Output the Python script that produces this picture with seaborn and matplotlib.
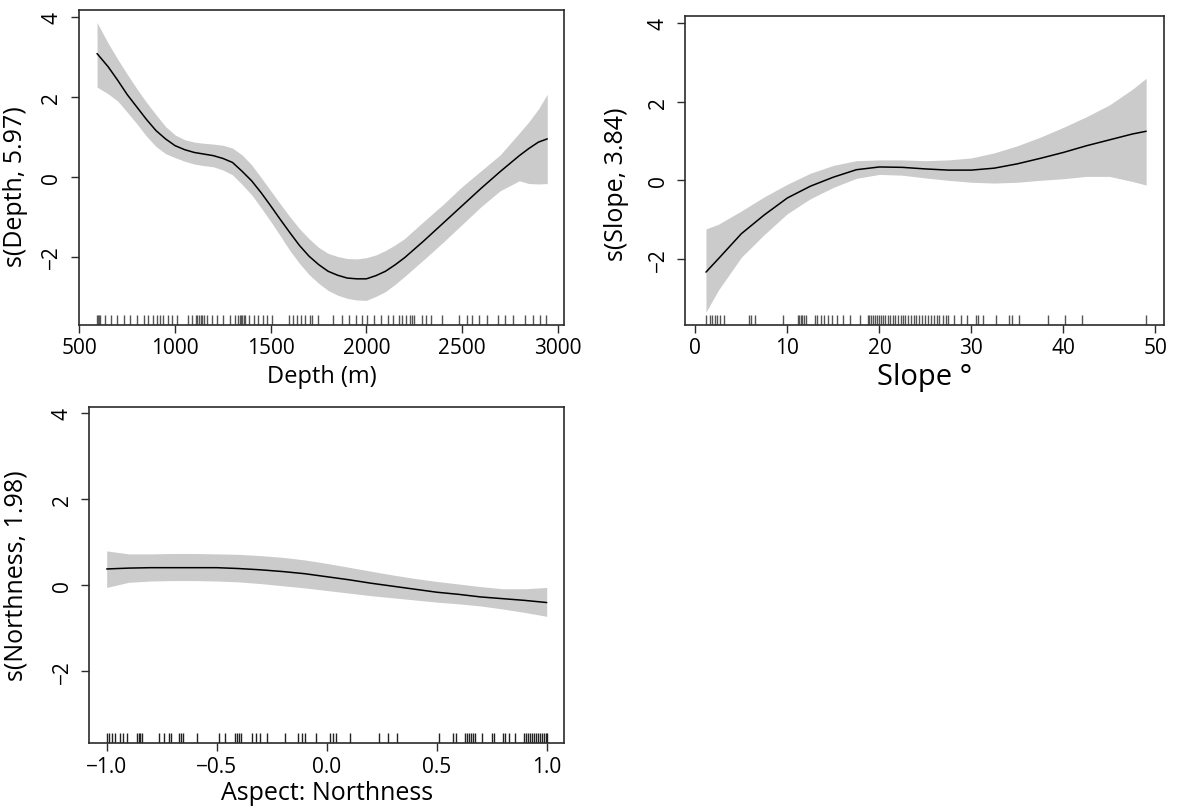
import matplotlib
matplotlib.use("Agg")
import matplotlib.pyplot as plt
import seaborn as sns

# --- Depth smooth ---
depth_x = [592, 650, 700, 750, 800, 850, 900, 950, 1000, 1050, 1100, 1150, 1200, 1250, 1300,
           1350, 1400, 1450, 1500, 1550, 1600, 1650, 1700, 1750, 1800, 1850, 1900, 1950, 2000,
           2050, 2100, 2150, 2200, 2300, 2400, 2500, 2600, 2700, 2800, 2850, 2900, 2946]
depth_fit = [3.09, 2.76, 2.42, 2.06, 1.75, 1.44, 1.16, 0.95, 0.78, 0.68, 0.61, 0.57, 0.53,
             0.46, 0.36, 0.14, -0.10, -0.40, -0.73, -1.07, -1.40, -1.72, -1.99, -2.20, -2.37,
             -2.47, -2.54, -2.56, -2.56, -2.48, -2.37, -2.21, -2.03, -1.61, -1.17, -0.73,
             -0.29, 0.13, 0.53, 0.71, 0.87, 0.95]
depth_hi = [3.87, 3.35, 2.95, 2.57, 2.21, 1.87, 1.56, 1.26, 1.05, 0.93, 0.87, 0.84, 0.82,
            0.79, 0.72, 0.55, 0.30, -0.02, -0.35, -0.68, -1.00, -1.30, -1.55, -1.77, -1.92,
            -2.00, -2.05, -2.06, -2.03, -1.96, -1.85, -1.71, -1.55, -1.12, -0.70, -0.25, 0.15,
            0.55, 1.10, 1.38, 1.70, 2.07]
depth_lo = [2.25, 2.08, 1.90, 1.62, 1.33, 1.02, 0.76, 0.58, 0.48, 0.39, 0.32, 0.28, 0.25,
            0.17, 0.05, -0.19, -0.45, -0.78, -1.12, -1.48, -1.85, -2.17, -2.45, -2.67, -2.85,
            -2.97, -3.05, -3.09, -3.10, -3.00, -2.88, -2.70, -2.50, -2.08, -1.65, -1.20, -0.75,
            -0.35, -0.10, -0.17, -0.18, -0.17]
depth_rug = [592, 598, 604, 610, 636, 666, 696, 732, 766, 802, 837, 861, 887, 907, 921, 937,
             961, 983, 1011, 1067, 1087, 1107, 1117, 1127, 1135, 1143, 1151, 1167, 1193, 1217,
             1253, 1287, 1313, 1327, 1337, 1343, 1351, 1359, 1367, 1387, 1411, 1431, 1458, 1482,
             1508, 1598, 1618, 1638, 1658, 1678, 1704, 1718, 1748, 1824, 1874, 1908, 1948, 1978,
             2004, 2038, 2078, 2115, 2139, 2169, 2189, 2209, 2229, 2239, 2249, 2289, 2313, 2339,
             2395, 2483, 2525, 2555, 2589, 2629, 2690, 2726, 2766, 2830, 2870, 2910, 2940]
depth_ticks = [500, 1000, 1500, 2000, 2500, 3000]
depth_ticklabels = ["500", "1000", "1500", "2000", "2500", "3000"]

# --- Slope smooth ---
slope_x = [1.15, 2.5, 5, 7.5, 10, 12.5, 15, 17.5, 20, 22.5, 25, 27.5, 30, 32.5, 35, 37.5,
           40, 42.5, 45, 47.5, 49.0]
slope_fit = [-2.34, -2.00, -1.36, -0.88, -0.45, -0.15, 0.08, 0.27, 0.34, 0.33, 0.29, 0.26,
             0.26, 0.31, 0.42, 0.56, 0.71, 0.88, 1.03, 1.18, 1.25]
slope_hi = [-1.24, -1.12, -0.78, -0.42, -0.10, 0.18, 0.38, 0.50, 0.52, 0.52, 0.50, 0.52,
            0.57, 0.70, 0.88, 1.10, 1.35, 1.62, 1.92, 2.32, 2.60]
slope_lo = [-3.36, -2.80, -1.96, -1.38, -0.85, -0.47, -0.18, 0.05, 0.15, 0.13, 0.06, 0.00,
            -0.05, -0.07, -0.05, 0.00, 0.04, 0.10, 0.10, -0.03, -0.12]
slope_rug = [1.15, 1.64, 1.84, 2.13, 2.37, 2.66, 3.15, 5.85, 6.06, 6.46, 9.53, 11.13, 11.29,
             11.46, 11.62, 11.78, 11.99, 13.01, 13.22, 13.63, 14.03, 14.40, 14.85, 15.34, 16.0,
             16.78, 17.88, 18.74, 18.9, 19.11, 19.31, 19.52, 19.72, 19.97, 20.17, 20.38, 20.66,
             20.95, 21.15, 21.44, 21.69, 21.97, 22.3, 22.59, 22.83, 23.12, 23.45, 23.73, 24.02,
             24.35, 24.67, 24.96, 25.25, 25.57, 25.98, 26.31, 26.51, 26.88, 27.21, 27.5, 28.15,
             28.85, 29.54, 30.48, 30.77, 31.22, 32.73, 34.08, 34.37, 35.19, 38.38, 40.22, 42.02,
             49.02]
slope_ticks = [0, 10, 20, 30, 40, 50]
slope_ticklabels = ["0", "10", "20", "30", "40", "50"]

# --- Northness smooth ---
north_x = [-1.0, -0.9, -0.8, -0.7, -0.6, -0.5, -0.4, -0.3, -0.2, -0.1, 0.0, 0.1, 0.2, 0.3,
           0.4, 0.5, 0.6, 0.7, 0.8, 0.9, 1.0]
north_fit = [0.38, 0.40, 0.41, 0.41, 0.41, 0.41, 0.39, 0.36, 0.32, 0.27, 0.20, 0.13, 0.05,
             -0.02, -0.09, -0.16, -0.21, -0.27, -0.31, -0.35, -0.40]
north_hi = [0.80, 0.73, 0.73, 0.74, 0.74, 0.73, 0.72, 0.69, 0.65, 0.59, 0.51, 0.42, 0.33,
            0.24, 0.16, 0.09, 0.03, -0.03, -0.08, -0.08, -0.05]
north_lo = [-0.05, 0.07, 0.10, 0.11, 0.11, 0.10, 0.08, 0.04, -0.01, -0.06, -0.12, -0.18,
            -0.24, -0.29, -0.34, -0.39, -0.43, -0.48, -0.55, -0.63, -0.72]
north_rug = [-1.0, -0.988, -0.974, -0.960, -0.939, -0.927, -0.908, -0.864, -0.855, -0.847,
             -0.838, -0.760, -0.739, -0.716, -0.707, -0.672, -0.664, -0.655, -0.591, -0.491,
             -0.463, -0.416, -0.408, -0.399, -0.390, -0.338, -0.321, -0.303, -0.272, -0.190,
             -0.132, -0.111, -0.098, -0.049, 0.016, 0.028, 0.042, 0.106, 0.240, 0.280, 0.321,
             0.512, 0.573, 0.589, 0.629, 0.638, 0.646, 0.655, 0.664, 0.672, 0.704, 0.751, 0.760,
             0.800, 0.812, 0.829, 0.855, 0.899, 0.908, 0.916, 0.925, 0.934, 0.943, 0.951, 0.960,
             0.969, 0.977, 0.986, 0.995, 1.0]
north_ticks = [-1.0, -0.5, 0.0, 0.5, 1.0]
north_ticklabels = ["\u22121.0", "\u22120.5", "0.0", "0.5", "1.0"]

y_ticks = [-2, 0, 2, 4]
y_ticklabels = ["\u22122", "0", "2", "4"]

BAND = "#cbcbcb"

sns.set_style("ticks")
plt.rcParams["font.family"] = ["Open Sans", "DejaVu Sans"]
plt.rcParams["axes.edgecolor"] = "#2b2b2b"
plt.rcParams["axes.linewidth"] = 1.2
plt.rcParams["text.color"] = "black"
plt.rcParams["axes.labelcolor"] = "black"
plt.rcParams["xtick.color"] = "#2b2b2b"
plt.rcParams["ytick.color"] = "#2b2b2b"
plt.rcParams["xtick.labelcolor"] = "black"
plt.rcParams["ytick.labelcolor"] = "black"


def draw_panel(ax, x, fit, lo, hi, rug, xlim, ylim, xticks, xticklabels,
               xlabel, ylabel, xlabel_size, ylabel_pos, xlabel_y, rug_color):
    ax.fill_between(x, lo, hi, color=BAND, lw=0)
    sns.lineplot(x=x, y=fit, ax=ax, color="black", lw=1.1)
    sns.rugplot(x=rug, ax=ax, height=0.03, color=rug_color, lw=0.8)

    ax.set_xlim(*xlim)
    ax.set_ylim(*ylim)
    ax.set_xticks(xticks)
    ax.set_xticklabels(xticklabels)
    ax.set_yticks(y_ticks)
    ax.set_yticklabels(y_ticklabels)
    plt.setp(ax.get_yticklabels(), rotation=90, va="center")
    ax.tick_params(axis="both", direction="out", length=6, width=1.0, labelsize=15)
    ax.tick_params(axis="x", pad=3)
    ax.tick_params(axis="y", pad=6)
    for side in ["top", "right", "left", "bottom"]:
        ax.spines[side].set_visible(True)

    ax.set_xlabel(xlabel, fontsize=xlabel_size)
    ax.set_ylabel(ylabel, fontsize=18)
    ax.xaxis.set_label_coords(0.5, xlabel_y)
    ax.yaxis.set_label_coords(*ylabel_pos)


fig = plt.figure(figsize=(11.94, 8.12), dpi=100)

ax1 = fig.add_axes([0.0659, 0.5989, 0.4067, 0.3879])
draw_panel(ax1, depth_x, depth_fit, depth_lo, depth_hi, depth_rug,
           (496, 3035), (-3.71, 4.19), depth_ticks, depth_ticklabels,
           "Depth (m)", "s(Depth, 5.97)", 17, (-0.105, 0.44), -0.125, "#555555")

ax2 = fig.add_axes([0.5740, 0.5989, 0.4012, 0.3798])
draw_panel(ax2, slope_x, slope_fit, slope_lo, slope_hi, slope_rug,
           (-1.09, 50.98), (-3.68, 4.18), slope_ticks, slope_ticklabels,
           "Slope \u00b0", "s(Slope, 3.84)", 21, (-0.1175, 0.46), -0.121, "#555555")

ax3 = fig.add_axes([0.0748, 0.0834, 0.3978, 0.4145])
draw_panel(ax3, north_x, north_fit, north_lo, north_hi, north_rug,
           (-1.079, 1.08), (-3.67, 4.15), north_ticks, north_ticklabels,
           "Aspect: Northness", "s(Northness, 1.98)", 18, (-0.128, 0.5), -0.109, "#222222")

fig.savefig("out.png", dpi=100)
